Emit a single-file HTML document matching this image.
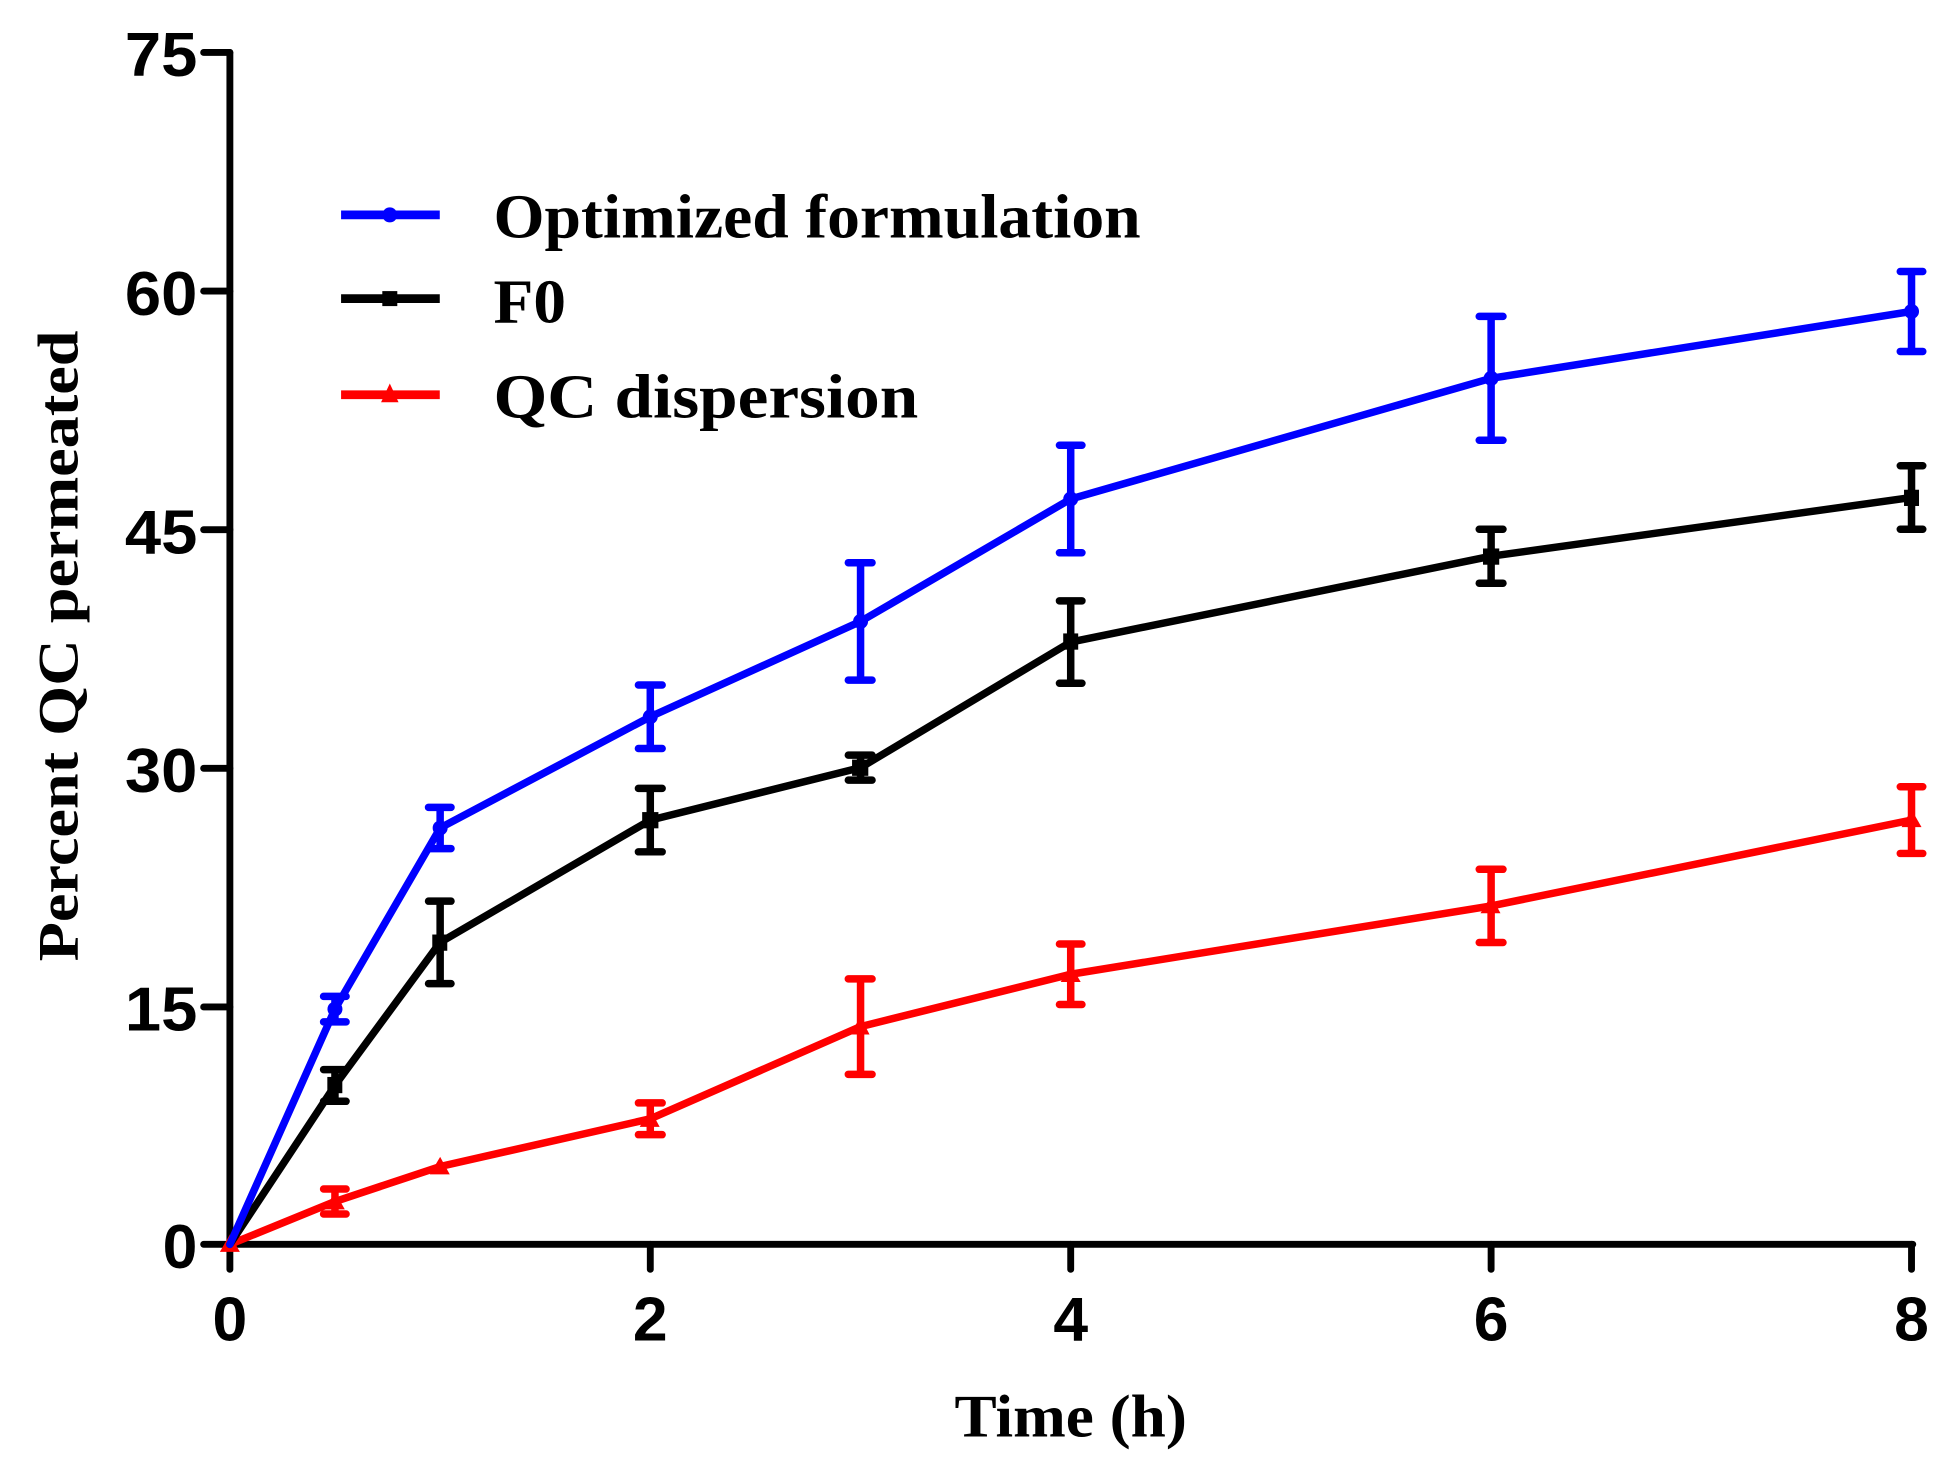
<!DOCTYPE html>
<html><head><meta charset="utf-8"><style>
html,body{margin:0;padding:0;background:#fff;}
svg{display:block;}
.tk{font-family:"Liberation Sans",Arial,sans-serif;font-weight:bold;font-size:50px;fill:#000;}
.sf{font-family:"Liberation Serif","Times New Roman",serif;font-weight:bold;fill:#000;}
</style></head><body>
<svg width="1954" height="1463" viewBox="0 0 1564 1171" preserveAspectRatio="none" xmlns="http://www.w3.org/2000/svg">
<rect width="1564" height="1171" fill="#fff"/>
<g stroke="#000" stroke-width="5.5" stroke-linecap="round" fill="none">
<line x1="184" y1="42" x2="184" y2="1016"/>
<line x1="163" y1="996" x2="1531" y2="996"/>
<line x1="163" y1="42" x2="184" y2="42"/>
<line x1="163" y1="233" x2="184" y2="233"/>
<line x1="163" y1="424" x2="184" y2="424"/>
<line x1="163" y1="615" x2="184" y2="615"/>
<line x1="163" y1="806" x2="184" y2="806"/>
<line x1="520.5" y1="996" x2="520.5" y2="1016"/>
<line x1="857" y1="996" x2="857" y2="1016"/>
<line x1="1193.5" y1="996" x2="1193.5" y2="1016"/>
<line x1="1530" y1="996" x2="1530" y2="1016"/>
</g>
<g class="tk" text-anchor="end">
<text x="158" y="61" textLength="58" lengthAdjust="spacingAndGlyphs">75</text>
<text x="158" y="252" textLength="58" lengthAdjust="spacingAndGlyphs">60</text>
<text x="158" y="443" textLength="58" lengthAdjust="spacingAndGlyphs">45</text>
<text x="158" y="634" textLength="58" lengthAdjust="spacingAndGlyphs">30</text>
<text x="158" y="825" textLength="58" lengthAdjust="spacingAndGlyphs">15</text>
<text x="158" y="1015">0</text>
</g>
<g class="tk" text-anchor="middle">
<text x="184" y="1073">0</text>
<text x="520.5" y="1073">2</text>
<text x="857" y="1073">4</text>
<text x="1193.5" y="1073">6</text>
<text x="1530" y="1073">8</text>
</g>
<text class="sf" x="857" y="1150" text-anchor="middle" font-size="48" textLength="186" lengthAdjust="spacingAndGlyphs">Time (h)</text>
<text class="sf" transform="translate(62,517) rotate(-90)" text-anchor="middle" font-size="46" textLength="505" lengthAdjust="spacingAndGlyphs">Percent QC permeated</text>
<g stroke-width="7">
<line x1="273" y1="172" x2="352" y2="172" stroke="#0000ff"/>
<circle cx="312" cy="172" r="6" fill="#0000ff"/>
<line x1="273" y1="239" x2="352" y2="239" stroke="#000"/>
<rect x="306" y="233" width="12" height="12" fill="#000"/>
<line x1="273" y1="316" x2="352" y2="316" stroke="#ff0000"/>
<polygon points="312,307 319,322 305,322" fill="#ff0000"/>
</g>
<text class="sf" x="395" y="190" font-size="50" textLength="518" lengthAdjust="spacingAndGlyphs">Optimized formulation</text>
<text class="sf" x="395" y="258" font-size="50" textLength="58" lengthAdjust="spacingAndGlyphs">F0</text>
<text class="sf" x="395" y="334" font-size="50" textLength="340" lengthAdjust="spacingAndGlyphs">QC dispersion</text>
<g stroke="#ff0000" stroke-width="6" fill="none" stroke-linecap="round">
<polyline stroke-linejoin="round" points="184,996 268.1,961.7 352.3,933.7 520.5,895.5 688.8,821.7 857,779.8 1193.5,725.1 1530,656.4"/>
<path d="M268.1,951.7V971.7M259,951.7H277M259,971.7H277
M520.5,882.8V908.2M511,882.8H530M511,908.2H530
M688.8,783.5V859.9M679,783.5H698M679,859.9H698
M857,755.6V804M848,755.6H866M848,804H866
M1193.5,695.8V754.4M1184,695.8H1203M1184,754.4H1203
M1530,629.7V683.1M1521,629.7H1539M1521,683.1H1539"/>
</g>
<g fill="#ff0000">
<polygon points="184,988 192,1002 176,1002"/><polygon points="268.1,954 276,968 260,968"/><polygon points="352.3,926 360,940 344,940"/>
<polygon points="520.5,888 528,902 512,902"/><polygon points="688.8,814 696,828 680,828"/><polygon points="857,772 865,786 849,786"/>
<polygon points="1193.5,717 1201,731 1185,731"/><polygon points="1530,648 1538,662 1522,662"/>
</g>
<g stroke="#000" stroke-width="6" fill="none" stroke-linecap="round">
<polyline stroke-linejoin="round" points="184,996 268.1,868.8 352.3,754.3 520.5,656.4 688.8,614.4 857,513.9 1193.5,445.2 1530,398.2"/>
<path d="M268.1,856.1V881.5M259,856.1H277M259,881.5H277
M352.3,721.3V787.3M343,721.3H361M343,787.3H361
M520.5,631V681.8M511,631H530M511,681.8H530
M688.8,604.4V624.4M679,604.4H698M679,624.4H698
M857,480.9V546.9M848,480.9H866M848,546.9H866
M1193.5,423.6V466.8M1184,423.6H1203M1184,466.8H1203
M1530,372.8V423.6M1521,372.8H1539M1521,423.6H1539"/>
</g>
<g fill="#000">
<rect x="262" y="862" width="12" height="13"/><rect x="346" y="748" width="12" height="13"/><rect x="514" y="650" width="13" height="13"/>
<rect x="682" y="608" width="13" height="13"/><rect x="851" y="507" width="12" height="13"/><rect x="1187" y="439" width="13" height="13"/><rect x="1524" y="392" width="12" height="13"/>
</g>
<g stroke="#0000ff" stroke-width="6" fill="none" stroke-linecap="round">
<polyline stroke-linejoin="round" points="184,996 268.1,807.7 352.3,662.7 520.5,573.7 688.8,497.4 857,399.4 1193.5,302.8 1530,249.3"/>
<path d="M268.1,797.5V817.9M259,797.5H277M259,817.9H277
M352.3,646.2V679.2M343,646.2H361M343,679.2H361
M520.5,548.3V599.1M511,548.3H530M511,599.1H530
M688.8,450.4V544.4M679,450.4H698M679,544.4H698
M857,356.4V442.4M848,356.4H866M848,442.4H866
M1193.5,253.2V352.4M1184,253.2H1203M1184,352.4H1203
M1530,217.3V281.3M1521,217.3H1539M1521,281.3H1539"/>
</g>
<g fill="#0000ff">
<circle cx="268.1" cy="807.7" r="6"/><circle cx="352.3" cy="662.7" r="6"/><circle cx="520.5" cy="573.7" r="6"/>
<circle cx="688.8" cy="497.4" r="6"/><circle cx="857" cy="399.4" r="6"/><circle cx="1193.5" cy="302.8" r="6"/><circle cx="1530" cy="249.3" r="6"/>
</g>
</svg>
</body></html>
